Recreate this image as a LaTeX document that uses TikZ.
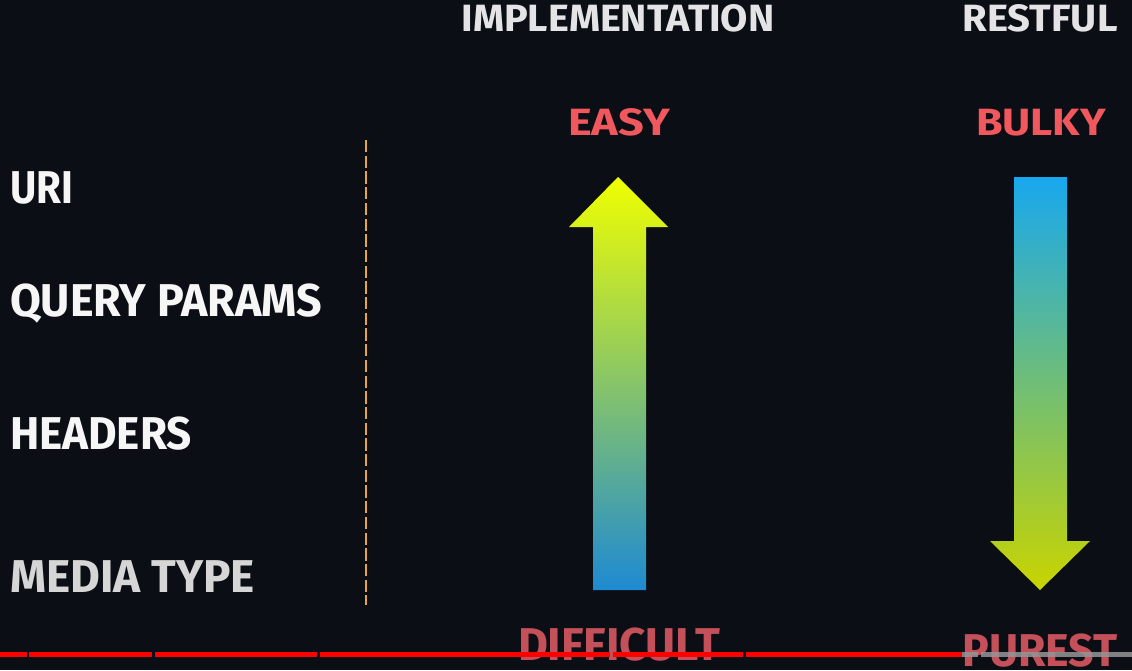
\documentclass[tikz,border=0pt]{standalone}
\usepackage{fontspec}
\setmainfont{Fira Sans}
\usepackage{graphicx}
\definecolor{bg}{RGB}{11,14,20}
\definecolor{labelwhite}{RGB}{246,246,246}
\definecolor{labelgrey}{RGB}{214,214,214}
\definecolor{headgrey}{RGB}{228,228,230}
\definecolor{tagred}{RGB}{240,88,94}
\definecolor{dimred}{RGB}{196,80,90}
\definecolor{dashorange}{RGB}{232,168,56}
\definecolor{barred}{RGB}{255,0,0}
\definecolor{bargrey}{RGB}{150,150,152}
\definecolor{upTop}{RGB}{240,255,0}
\definecolor{upMid}{RGB}{190,236,62}
\definecolor{upBot}{RGB}{30,138,210}
\definecolor{dnTop}{RGB}{24,168,238}
\definecolor{dnMid}{RGB}{120,206,150}
\definecolor{dnBot}{RGB}{200,212,0}
% fix a word to a given ink width, keeping its height
\newcommand{\fitto}[2]{\resizebox{#1}{\height}{#2}}
\begin{document}
\begin{tikzpicture}[x=1pt,y=-1pt,
  every node/.style={inner sep=0pt,outer sep=0pt},
  sidelabel/.style={anchor=base west,text=labelwhite,font=\bfseries\fontsize{46}{46}\selectfont},
  colhead/.style={anchor=base,text=headgrey,font=\bfseries\fontsize{38}{38}\selectfont},
  toptag/.style={anchor=base,text=tagred,font=\bfseries\fontsize{38}{38}\selectfont},
  bottag/.style={anchor=base,text=dimred,font=\bfseries\fontsize{46}{46}\selectfont},
  progress/.style={line width=5pt}]
  \useasboundingbox (0,0) rectangle (1132,670);
  \fill[bg] (0,0) rectangle (1132,670);

  % row labels
  \node[sidelabel] (uri) at (10,203) {\fitto{63pt}{URI}};
  \node[sidelabel] (query) at (10,316) {\fitto{312pt}{QUERY PARAMS}};
  \node[sidelabel] (headers) at (10,449) {\fitto{182pt}{HEADERS}};
  \node[sidelabel,text=labelgrey] (media) at (10,592) {\fitto{245pt}{MEDIA TYPE}};

  % separator
  \coordinate (septop) at (366,140);
  \coordinate (sepbot) at (366,605);
  \draw[dashorange,line width=1.3pt,dash pattern=on 12.3pt off 3.4pt] (septop) -- (sepbot);

  % column headings
  \node[colhead] (impl) at (618,31) {\fitto{313pt}{IMPLEMENTATION}};
  \node[colhead] (rest) at (1040,31) {\fitto{155pt}{RESTFUL}};
  \node[toptag] (easy) at (619,135) {\fitto{102pt}{EASY}};
  \node[toptag] (bulky) at (1041,135) {\fitto{130pt}{BULKY}};

  % implementation arrow (pointing up)
  \shade[top color=upTop,middle color=upMid,bottom color=upBot]
    (593,590) -- (593,227) -- (569,227) -- (618,177) -- (668,227) -- (646,227) -- (646,590) -- cycle;

  % restful arrow (pointing down)
  \shade[top color=dnTop,middle color=dnMid,bottom color=dnBot]
    (1014,177) -- (1067,177) -- (1067,541) -- (1090,541) -- (1040,590) -- (990,541) -- (1014,541) -- cycle;

  % bottom tags
  \node[bottag] (difficult) at (619,660) {\fitto{202pt}{DIFFICULT}};
  \node[bottag] (purest) at (1040,666) {\fitto{155pt}{PUREST}};

  % progress bar
  \draw[barred,progress] (0,654.5) -- (27,654.5) (29,654.5) -- (152,654.5)
    (155,654.5) -- (317,654.5) (320,654.5) -- (610,654.5)
    (613,654.5) -- (743,654.5) (746,654.5) -- (962,654.5);
  \draw[bargrey,progress,opacity=0.85] (962,654.5) -- (978,654.5) (981,654.5) -- (1132,654.5);
\end{tikzpicture}
\end{document}
